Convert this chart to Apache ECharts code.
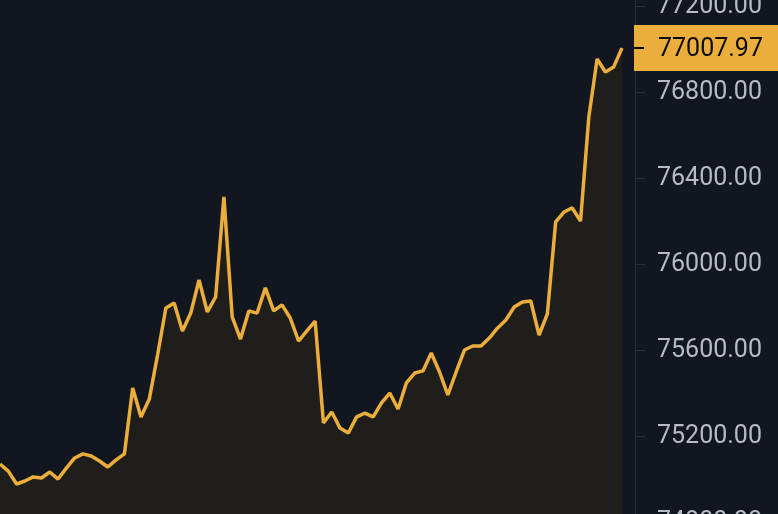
<!DOCTYPE html>
<html>
<head>
<meta charset="utf-8">
<script src="https://cdn.jsdelivr.net/npm/echarts@6/dist/echarts.min.js"></script>
<style>
html,body{margin:0;padding:0;background:#12161e;}
#chart{width:778px;height:514px;}
</style>
</head>
<body>
<div id="chart"></div>
<script>
const times = Array.from({length: 76}, (_, i) => 'T' + i);
const prices = [
  75073, 75040, 74980, 74994, 75013, 75008, 75036, 75003, 75054, 75101,
  75120, 75110, 75087, 75059, 75092, 75120, 75427, 75292, 75375, 75580,
  75799, 75822, 75692, 75775, 75929, 75780, 75850, 76315, 75757, 75654,
  75785, 75775, 75892, 75785, 75813, 75752, 75645, 75692, 75738, 75264,
  75315, 75240, 75217, 75292, 75310, 75292, 75357, 75403, 75329, 75450,
  75496, 75506, 75589, 75501, 75394, 75501, 75603, 75622, 75622, 75659,
  75706, 75743, 75803, 75827, 75831, 75673, 75771, 76199, 76245, 76264,
  76203, 76687, 76957, 76896, 76920, 77007.97
];
const yMin = 74400;
const yMax = 77600;
const yStep = 400;
const lastPrice = prices[prices.length - 1];

const LINE = '#ebae3c';
const chart = echarts.init(document.getElementById('chart'));
chart.setOption({
  backgroundColor: '#12161e',
  animation: false,
  grid: {left: 0, right: 156, top: -79.3, bottom: -94.7, outerBoundsMode: 'none', containLabel: false},
  xAxis: {
    type: 'category', data: times, boundaryGap: false,
    show: false
  },
  yAxis: {
    type: 'value', position: 'right', offset: 13,
    min: yMin, max: yMax, interval: yStep,
    splitLine: {show: false},
    axisLine: {show: true, lineStyle: {color: '#2b2f38', width: 1}},
    axisTick: {show: true, length: 10, lineStyle: {color: '#2b2f38', width: 1}},
    axisLabel: {
      margin: 22, color: '#b7bcc4', fontSize: 25, fontFamily: 'Roboto',
      padding: [4, 0, 0, 0],
      formatter: v => v.toFixed(2)
    }
  },
  series: [{
    type: 'line', data: prices, showSymbol: false, symbol: 'none',
    lineStyle: {color: LINE, width: 3.5},
    areaStyle: {color: '#1f1e1b', opacity: 1, origin: 'start'},
    z: 2
  }]
});

const py = chart.convertToPixel({yAxisIndex: 0}, lastPrice);
const px = chart.convertToPixel({xAxisIndex: 0}, times.length - 1);
const axisX = px + 13;
chart.setOption({
  graphic: [
    {type: 'rect', shape: {x: axisX - 1, y: py - 23, width: 778 - axisX + 1, height: 46},
     style: {fill: '#ebae3c'}, z: 10},
    {type: 'line', shape: {x1: axisX - 2, y1: py, x2: axisX + 9, y2: py},
     style: {stroke: '#000', lineWidth: 2}, z: 11},
    {type: 'text', x: axisX + 23, y: py + 2,
     style: {text: lastPrice.toFixed(2), fill: '#0b0b0b', fontSize: 25, fontFamily: 'Roboto',
             verticalAlign: 'middle', align: 'left'}, z: 11}
  ]
});
</script>
</body>
</html>
